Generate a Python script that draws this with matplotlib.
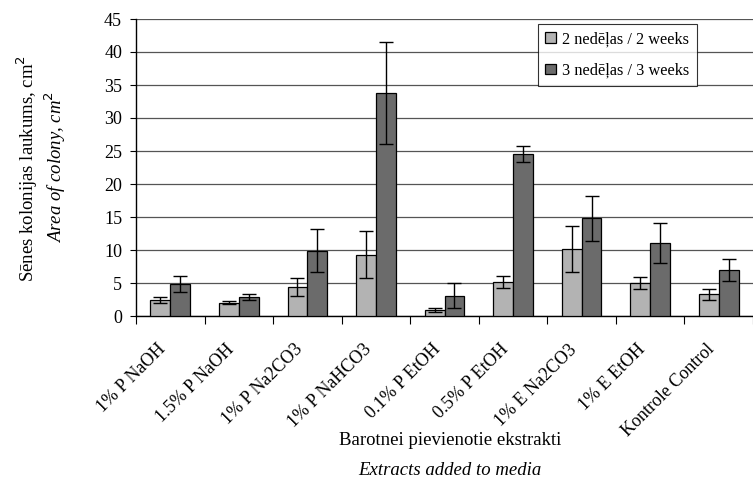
import matplotlib.pyplot as plt
from matplotlib.transforms import blended_transform_factory, ScaledTranslation
import numpy as np

plt.rcParams['font.family'] = ['Liberation Serif', 'DejaVu Serif']

categories = ['1% P NaOH', '1.5% P NaOH', '1% P Na2CO3', '1% P NaHCO3',
              '0.1% P EtOH', '0.5% P EtOH', '1% E Na2CO3', '1% E EtOH',
              'Kontrole Control']
weeks2 = [2.4, 2.0, 4.4, 9.3, 0.9, 5.2, 10.2, 5.0, 3.3]
weeks2_err = [0.5, 0.2, 1.4, 3.6, 0.3, 0.9, 3.5, 0.9, 0.8]
weeks3 = [4.9, 2.9, 9.9, 33.8, 3.1, 24.5, 14.8, 11.1, 7.0]
weeks3_err = [1.2, 0.4, 3.3, 7.7, 1.9, 1.2, 3.4, 3.0, 1.7]

fig = plt.figure(figsize=(7.53, 4.86), dpi=100)
ax = fig.add_axes([136/753, 1 - 316/486, 1 - 136/753, 297/486])

x = np.arange(len(categories))
w = 0.289
ax.bar(x - w/2, weeks2, w, color='#b3b3b3', edgecolor='black', lw=0.9,
       yerr=weeks2_err, capsize=5, error_kw=dict(lw=1, capthick=1),
       label='2 nedēļas / 2 weeks', zorder=3)
ax.bar(x + w/2, weeks3, w, color='#6b6b6b', edgecolor='black', lw=0.9,
       yerr=weeks3_err, capsize=5, error_kw=dict(lw=1, capthick=1),
       label='3 nedēļas / 3 weeks', zorder=3)

ax.set_ylim(0, 45)
ax.set_yticks(range(0, 46, 5))
ax.set_xlim(-0.5, 8.5 - 7/69.3)
ax.yaxis.grid(True, color='#555555', lw=0.9)
ax.set_axisbelow(True)
for s in ['top', 'right']:
    ax.spines[s].set_visible(False)
ax.spines['left'].set_linewidth(1)
ax.spines['bottom'].set_linewidth(1)
ax.tick_params(axis='y', labelsize=13, length=4, pad=6, direction='out')
ax.set_xticks(np.arange(-0.5, 9, 1))
ax.set_xticklabels([])
ax.tick_params(axis='x', length=6, direction='out')

trans = blended_transform_factory(ax.transData, ax.transAxes) + \
    ScaledTranslation(-7/100, -31/100, fig.dpi_scale_trans)
for i, lab in enumerate(categories):
    ax.text(i, 0, lab, transform=trans, rotation=45, ha='right', va='center',
            rotation_mode='anchor', fontsize=13)

fig.text(27/753, 1 - 168/486, 'Sēnes kolonijas laukums, cm$^2$', rotation=90,
         ha='center', va='center', fontsize=13.5)
fig.text(55/753, 1 - 167/486, 'Area of colony, cm$^2$', rotation=90,
         ha='center', va='center', fontsize=13.5, style='italic')
fig.text(450/753, 1 - 440/486, 'Barotnei pievienotie ekstrakti',
         ha='center', va='center', fontsize=13.5)
fig.text(450/753, 1 - 470/486, 'Extracts added to media',
         ha='center', va='center', fontsize=13.5, style='italic')

leg = ax.legend(loc='upper left', bbox_to_anchor=((538-136)/617, (316-24)/297),
                fontsize=11.7, frameon=True, fancybox=False, edgecolor='black',
                handlelength=0.65, handleheight=0.65, handletextpad=0.4,
                borderpad=0.45, labelspacing=0.95, borderaxespad=0)
leg.get_frame().set_linewidth(0.8)

fig.savefig('out.png', dpi=100)
